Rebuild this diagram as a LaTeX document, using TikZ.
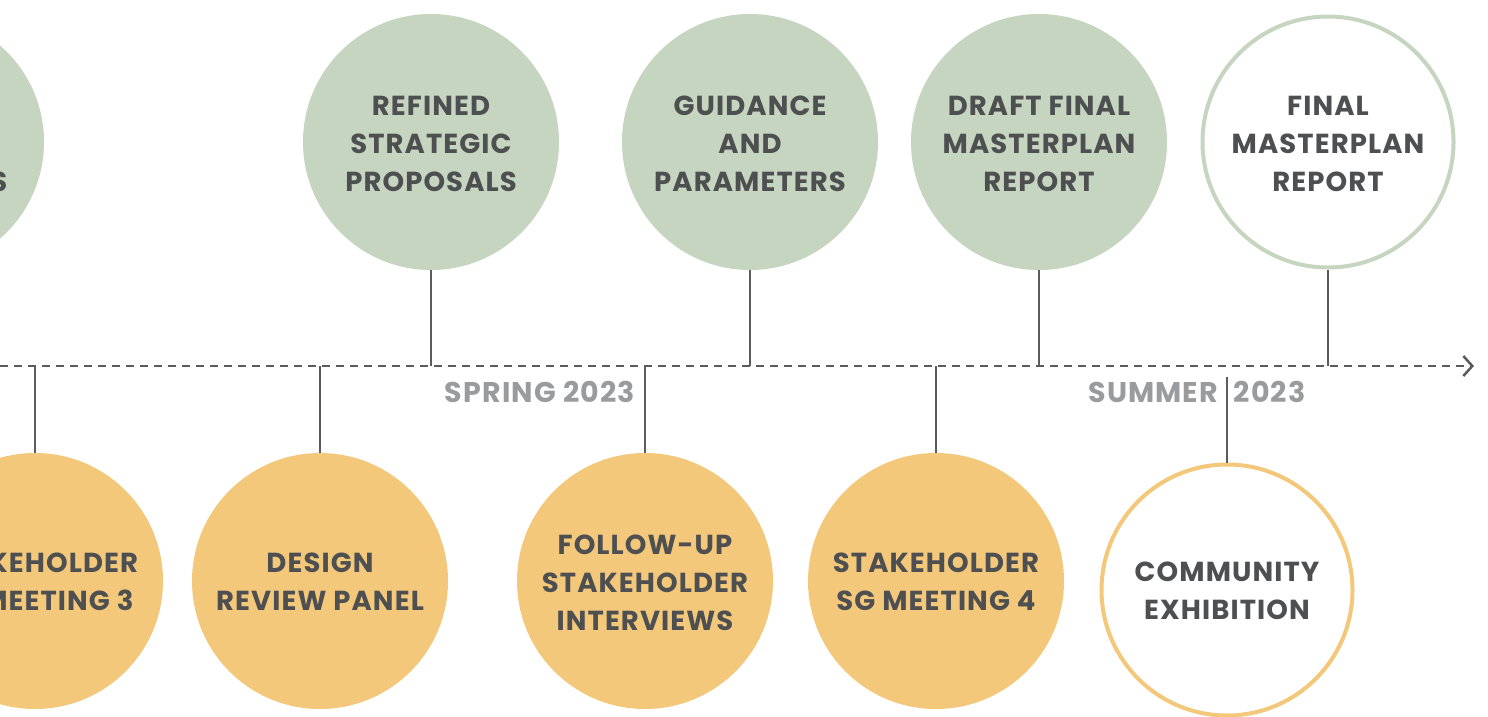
\documentclass[tikz,border=0pt]{standalone}
\usepackage{fontspec}
\setmainfont{Poppins}
\usetikzlibrary{arrows.meta}
\definecolor{sage}{HTML}{C5D5BF}
\definecolor{amber}{HTML}{F4C87A}
\definecolor{ink}{HTML}{4D4F51}
\definecolor{season}{HTML}{9A9B9D}
\definecolor{rule}{HTML}{5B5B5B}
\tikzset{
  lbl/.style={font=\fontsize{27.5}{38}\selectfont\bfseries\addfontfeatures{LetterSpace=4}, text=ink, align=center, inner sep=0pt},
  greenfill/.style={circle, fill=sage, draw=none, minimum size=256pt, inner sep=0pt},
  greenring/.style={circle, draw=sage, line width=4pt, fill=white, minimum size=251pt, inner sep=0pt},
  amberfill/.style={circle, fill=amber, draw=none, minimum size=256pt, inner sep=0pt},
  amberring/.style={circle, draw=amber, line width=4pt, fill=white, minimum size=251pt, inner sep=0pt},
  stem/.style={draw=rule, line width=2.5pt},
  seasonlbl/.style={font=\fontsize{28.5}{30}\selectfont\bfseries\addfontfeatures{LetterSpace=4}, text=season},
}
\begin{document}
\begin{tikzpicture}[x=1pt,y=-1pt]
\useasboundingbox (0,0) rectangle (1488,716);
\clip (0,0) rectangle (1488,716);
\fill[white] (0,0) rectangle (1488,716);

% timeline
\coordinate (tstart) at (0,366);
\coordinate (tend) at (1474,366);
\draw[draw=rule, line width=2.5pt, dash pattern=on 8pt off 6pt, -{Straight Barb[length=9pt,width=20pt,line width=2.5pt]}] (tstart) -- (tend);

% top circles
\node[greenfill] (prev) at (-84,142) {};
\node[lbl, anchor=base east] (prevtxt) at (7.5,191) {S};
\node[greenfill] (refined) at (431,142) {};
\node[greenfill] (guidance) at (750,142) {};
\node[greenfill] (draft) at (1039,142) {};
\node[greenring] (final) at (1328,142) {};
\node[lbl] (refinedtxt) at ([yshift=-2pt]refined.center) {REFINED\\STRATEGIC\\PROPOSALS};
\node[lbl] (guidancetxt) at ([yshift=-2pt]guidance.center) {GUIDANCE\\AND\\PARAMETERS};
\node[lbl] (drafttxt) at ([yshift=-2pt]draft.center) {DRAFT FINAL\\MASTERPLAN\\REPORT};
\node[lbl] (finaltxt) at ([yshift=-2pt]final.center) {FINAL\\MASTERPLAN\\REPORT};

% bottom circles
\node[amberfill] (sg3) at (35,581) {};
\node[amberfill] (drp) at (320,581) {};
\node[amberfill] (follow) at (645,581) {};
\node[amberfill] (sg4) at (936,581) {};
\node[amberring] (expo) at (1227,590) {};
\node[lbl] (sg3txt) at ([yshift=-1pt]sg3.center) {STAKEHOLDER\\SG MEETING 3};
\node[lbl] (drptxt) at ([yshift=-1pt]drp.center) {DESIGN\\REVIEW PANEL};
\node[lbl] (followtxt) at ([yshift=-2pt]follow.center) {FOLLOW-UP\\STAKEHOLDER\\INTERVIEWS};
\node[lbl] (sg4txt) at ([yshift=-1pt]sg4.center) {STAKEHOLDER\\SG MEETING 4};
\node[lbl] (expotxt) at ([yshift=-1pt]expo.center) {COMMUNITY\\EXHIBITION};

% timeline points
\coordinate (t1) at (35,366);
\coordinate (t2) at (320,366);
\coordinate (t3) at (431,366);
\coordinate (t4) at (645,366);
\coordinate (t5) at (750,366);
\coordinate (t6) at (936,366);
\coordinate (t7) at (1039,366);
\coordinate (t8) at (1328,366);
\coordinate (t9) at (1227,377);

% stems
\draw[stem] (refined.south) -- (t3);
\draw[stem] (guidance.south) -- (t5);
\draw[stem] (draft.south) -- (t7);
\draw[stem] (final.south) -- (t8);
\draw[stem] (t1) -- (sg3.north);
\draw[stem] (t2) -- (drp.north);
\draw[stem] (t4) -- (follow.north);
\draw[stem] (t6) -- (sg4.north);
\draw[stem] (t9) -- (expo.north);

% season labels
\node[seasonlbl] (spring) at (540,392) {SPRING 2023};
\node[seasonlbl] (summer) at (1197,392) {SUMMER\hspace{0.55em}2023};
\end{tikzpicture}
\end{document}
